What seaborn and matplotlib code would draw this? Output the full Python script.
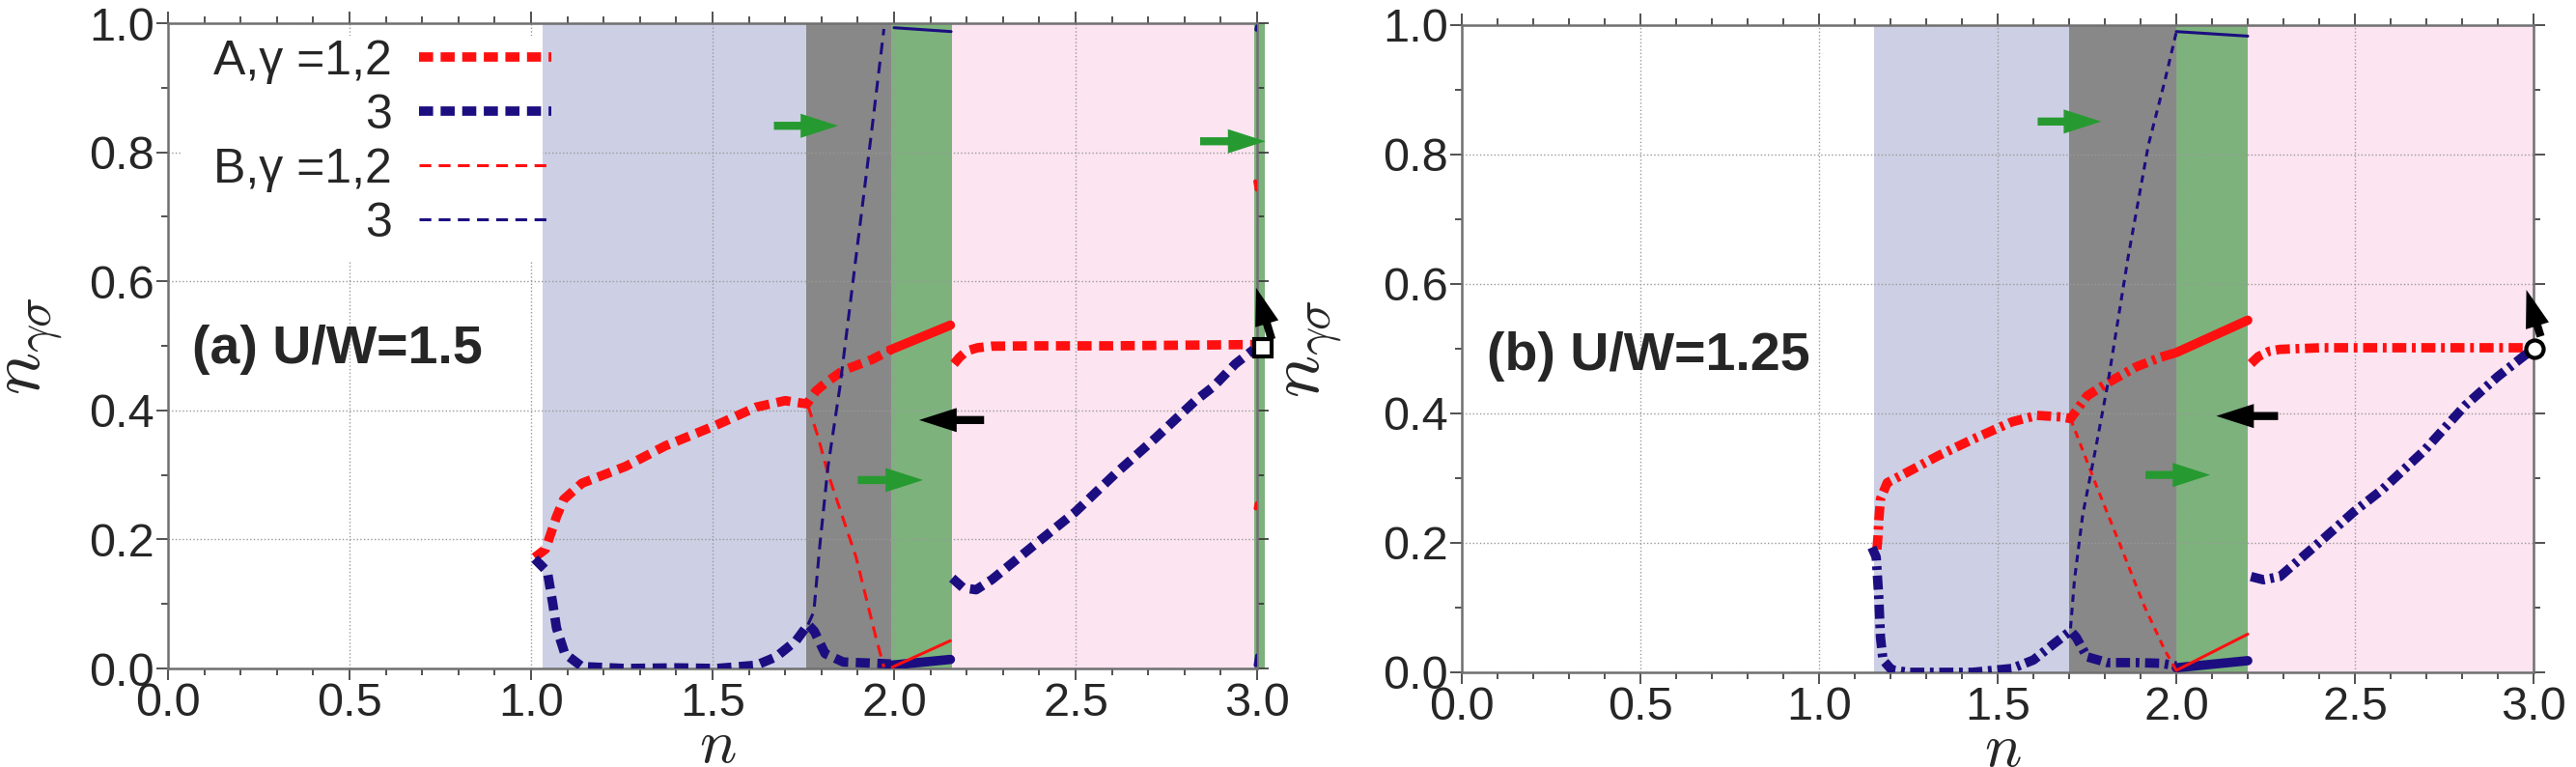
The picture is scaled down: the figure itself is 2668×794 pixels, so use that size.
import matplotlib
matplotlib.use('Agg')
import matplotlib.pyplot as plt
import seaborn as sns
from matplotlib.patches import Rectangle
from matplotlib.ticker import MultipleLocator, FormatStrFormatter

sns.set_style('ticks')
plt.rcParams['font.family'] = ['Liberation Sans', 'DejaVu Sans']
plt.rcParams['mathtext.fontset'] = 'cm'

RED = '#ff1010'
NAVY = '#1c0e80'
LAV = '#cdcfe4'
GRAY = '#888888'
GREEN = '#7db27d'
PINK = '#fce4f1'
ARROW_GREEN = '#269a30'

# ---------------- panel (a) U/W=1.5 ----------------
a_bounds = [1.032, 1.758, 1.991, 2.159, 2.993, 3.02]
a_colors = [LAV, GRAY, GREEN, PINK, GREEN]

# A, gamma=1,2
a_A12_x1 = [1.01, 1.04, 1.055, 1.07, 1.09, 1.14, 1.26, 1.37, 1.51, 1.62, 1.70, 1.76, 1.785, 1.81, 1.86, 1.94, 1.991]
a_A12_y1 = [0.172, 0.185, 0.21, 0.235, 0.262, 0.287, 0.313, 0.345, 0.377, 0.405, 0.415, 0.41, 0.43, 0.442, 0.462, 0.479, 0.494]
a_A12_x2 = [1.991, 2.155]
a_A12_y2 = [0.494, 0.532]
a_A12_x3 = [2.165, 2.18, 2.20, 2.23, 2.27, 2.4, 2.6, 2.8, 2.99]
a_A12_y3 = [0.472, 0.482, 0.492, 0.497, 0.4995, 0.5, 0.5, 0.501, 0.502]
# A, gamma=3
a_A3_x1 = [1.01, 1.045, 1.06, 1.07, 1.093, 1.14, 1.26, 1.4, 1.51, 1.62, 1.675, 1.73, 1.763, 1.78, 1.81, 1.86, 1.95, 1.991]
a_A3_y1 = [0.17, 0.15, 0.10, 0.063, 0.023, 0.003, 0.0, 0.001, 0.0, 0.005, 0.018, 0.043, 0.068, 0.058, 0.023, 0.010, 0.008, 0.007]
a_A3_x2 = [1.991, 2.155]
a_A3_y2 = [0.005, 0.014]
a_A3_x3 = [2.16, 2.19, 2.226, 2.27, 2.39, 2.5, 2.61, 2.72, 2.83, 2.88, 2.94, 2.99]
a_A3_y3 = [0.14, 0.125, 0.122, 0.138, 0.193, 0.243, 0.302, 0.357, 0.415, 0.437, 0.472, 0.494]
# B, gamma=1,2
a_B12_x1 = [1.763, 1.79, 1.818, 1.855, 1.895, 1.95, 1.972]
a_B12_y1 = [0.407, 0.36, 0.302, 0.24, 0.173, 0.048, 0.002]
a_B12_x2 = [1.995, 2.155]
a_B12_y2 = [0.002, 0.043]
# B, gamma=3
a_B3_x1 = [1.763, 1.779, 1.795, 1.818, 1.851, 1.895, 1.939, 1.972]
a_B3_y1 = [0.068, 0.088, 0.188, 0.313, 0.437, 0.637, 0.836, 0.991]
a_B3_x2 = [2.0, 2.157]
a_B3_y2 = [0.993, 0.987]
# bits of the B lines seen in the thin strip at n=3
a_Bred_edge_x = [[2.995, 2.999], [2.996, 2.999]]
a_Bred_edge_y = [[0.755, 0.742], [0.248, 0.256]]
a_Bnavy_edge_x = [[2.996, 3.0], [2.998, 3.0]]
a_Bnavy_edge_y = [[0.005, 0.02], [0.99, 0.995]]

# arrows: (tail x, tail y, head x, head y, colour)
a_arrows = [(1.669, 0.841, 1.846, 0.841, ARROW_GREEN),
            (2.843, 0.817, 3.023, 0.817, ARROW_GREEN),
            (1.90, 0.292, 2.08, 0.292, ARROW_GREEN),
            (2.248, 0.385, 2.069, 0.385, 'black'),
            (3.04, 0.51, 2.997, 0.59, 'black')]
a_marker = (3.015, 0.497)

# ---------------- panel (b) U/W=1.25 ----------------
b_bounds = [1.153, 1.701, 2.0, 2.2, 3.0]
b_colors = [LAV, GRAY, GREEN, PINK]

b_A12_x1 = [1.162, 1.165, 1.167, 1.172, 1.191, 1.25, 1.335, 1.43, 1.54, 1.61, 1.68, 1.704, 1.75, 1.807, 1.888, 1.957, 2.0]
b_A12_y1 = [0.19, 0.21, 0.233, 0.268, 0.293, 0.310, 0.335, 0.36, 0.387, 0.397, 0.3945, 0.392, 0.427, 0.447, 0.472, 0.487, 0.494]
b_A12_x2 = [2.0, 2.2]
b_A12_y2 = [0.494, 0.544]
b_A12_x3 = [2.209, 2.23, 2.26, 2.29, 2.405, 2.6, 2.8, 3.0]
b_A12_y3 = [0.477, 0.488, 0.496, 0.499, 0.5015, 0.5015, 0.5015, 0.5015]
b_A3_x1 = [1.148, 1.16, 1.167, 1.172, 1.179, 1.203, 1.25, 1.39, 1.43, 1.54, 1.60, 1.657, 1.704, 1.72, 1.75, 1.807, 1.888, 1.957, 2.0]
b_A3_y1 = [0.193, 0.178, 0.118, 0.054, 0.019, 0.004, 0.0, 0.0, 0.0, 0.006, 0.019, 0.044, 0.064, 0.054, 0.024, 0.015, 0.015, 0.014, 0.01]
b_A3_x2 = [2.0, 2.2]
b_A3_y2 = [0.007, 0.018]
b_A3_x3 = [2.209, 2.244, 2.29, 2.405, 2.497, 2.578, 2.693, 2.808, 2.9, 2.969, 3.0]
b_A3_y3 = [0.148, 0.143, 0.148, 0.203, 0.248, 0.283, 0.342, 0.412, 0.457, 0.487, 0.50]
b_B12_x1 = [1.704, 1.773, 1.842, 1.91, 1.968, 2.0]
b_B12_y1 = [0.392, 0.293, 0.198, 0.103, 0.034, 0.003]
b_B12_x2 = [2.0, 2.2]
b_B12_y2 = [0.003, 0.059]
b_B3_x1 = [1.704, 1.715, 1.738, 1.773, 1.807, 1.865, 1.922, 1.968, 2.0]
b_B3_y1 = [0.068, 0.143, 0.243, 0.342, 0.442, 0.641, 0.815, 0.914, 0.989]
b_B3_x2 = [2.0, 2.2]
b_B3_y2 = [0.99, 0.983]

b_arrows = [(1.612, 0.851, 1.79, 0.851, ARROW_GREEN),
            (1.914, 0.305, 2.095, 0.305, ARROW_GREEN),
            (2.285, 0.396, 2.112, 0.396, 'black'),
            (3.02, 0.519, 2.98, 0.591, 'black')]
b_marker = (3.003, 0.50)

legend_labels = ['A,γ =1,2', '3', 'B,γ =1,2', '3']

THICK = 7
THIN = 2.2


def seg(ax, x, y, color, lw, ls='-'):
    sns.lineplot(x=x, y=y, ax=ax, color=color, lw=lw, ls=ls, sort=False,
                 estimator=None, legend=False, zorder=3)
    return ax.lines[-1]


def style_axes(ax, label_x, label_y):
    ax.set_xlim(0, 3)
    ax.set_ylim(0, 1)
    ax.xaxis.set_major_locator(MultipleLocator(0.5))
    ax.xaxis.set_minor_locator(MultipleLocator(0.1))
    ax.yaxis.set_major_locator(MultipleLocator(0.2))
    ax.yaxis.set_minor_locator(MultipleLocator(0.1))
    ax.xaxis.set_major_formatter(FormatStrFormatter('%.1f'))
    ax.yaxis.set_major_formatter(FormatStrFormatter('%.1f'))
    ax.tick_params(which='both', direction='out', top=True, right=True,
                   width=1.2, color='#333333', labelsize=35, pad=1.5)
    ax.tick_params(which='major', length=8.6)
    ax.tick_params(which='minor', length=5)
    for s in ax.spines.values():
        s.set_visible(True)
        s.set_color('#707070')
        s.set_linewidth(1.8)
    ax.set_axisbelow('line')
    ax.grid(True, which='major', ls=':', lw=1.0, color='#999999')
    ax.set_xlabel(r'$n$', fontsize=46)
    ax.set_ylabel(r'$n_{\gamma\sigma}$', fontsize=53)
    ax.xaxis.set_label_coords(0.505, label_x)
    ax.yaxis.set_label_coords(label_y, 0.5)


def shade(ax, bounds, colors):
    for i, c in enumerate(colors):
        sp = ax.axvspan(bounds[i], bounds[i + 1], color=c, lw=0, zorder=1)
        sp.set_clip_on(False)


def arrows(ax, arr):
    for tx, ty, hx, hy, c in arr:
        ax.annotate('', xy=(hx, hy), xytext=(tx, ty), annotation_clip=False,
                    arrowprops=dict(arrowstyle='simple,head_length=1.4,head_width=0.9,tail_width=0.3',
                                    color=c, mutation_scale=20, shrinkA=0, shrinkB=0, lw=0),
                    zorder=6)


fig = plt.figure(figsize=(26.68, 7.94), dpi=100)
axa = fig.add_axes([0.06522, 0.12846, 0.42279, 0.84131])
axb = fig.add_axes([0.56747, 0.12343, 0.41604, 0.84383])

# panel (a)
shade(axa, a_bounds, a_colors)
dash_a = (0, (1.5, 0.8))
dash_b = (0, (4, 2.5))
hA12 = seg(axa, a_A12_x1, a_A12_y1, RED, THICK, dash_a)
seg(axa, a_A12_x2, a_A12_y2, RED, THICK)
seg(axa, a_A12_x3, a_A12_y3, RED, THICK, dash_a)
hA3 = seg(axa, a_A3_x1, a_A3_y1, NAVY, THICK, dash_a)
seg(axa, a_A3_x2, a_A3_y2, NAVY, THICK)
seg(axa, a_A3_x3, a_A3_y3, NAVY, THICK, dash_a)
hB12 = seg(axa, a_B12_x1, a_B12_y1, RED, THIN, dash_b)
seg(axa, a_B12_x2, a_B12_y2, RED, THIN)
hB3 = seg(axa, a_B3_x1, a_B3_y1, NAVY, THIN, dash_b)
seg(axa, a_B3_x2, a_B3_y2, NAVY, THIN)
for xs, ys in zip(a_Bred_edge_x, a_Bred_edge_y):
    seg(axa, xs, ys, RED, 3)
for xs, ys in zip(a_Bnavy_edge_x, a_Bnavy_edge_y):
    seg(axa, xs, ys, NAVY, 3)
arrows(axa, a_arrows)
axa.plot([a_marker[0]], [a_marker[1]], marker='s', ms=13, mfc='white', mec='black',
         mew=3, clip_on=False, zorder=7)
style_axes(axa, -0.075, -0.095)
axa.text(0.066, 0.494, '(a) U/W=1.5', fontsize=40, fontweight='bold', va='center', ha='left', zorder=8)
axa.add_patch(Rectangle((0.04, 0.63), a_bounds[0] - 0.04, 0.35, facecolor='white',
                        edgecolor='none', zorder=1.6))
axa.legend([hA12, hA3, hB12, hB3], legend_labels, loc='upper right',
           bbox_to_anchor=(0.352, 0.975), frameon=False, markerfirst=False, fontsize=36,
           handlelength=2.75, handletextpad=0.55, labelspacing=0.2, borderpad=0,
           borderaxespad=0)

# panel (b)
shade(axb, b_bounds, b_colors)
dash_a2 = (0, (1.5, 0.6, 0.4, 0.6))
dash_b2 = (0, (2.5, 2))
seg(axb, b_A12_x1, b_A12_y1, RED, THICK, dash_a2)
seg(axb, b_A12_x2, b_A12_y2, RED, THICK)
seg(axb, b_A12_x3, b_A12_y3, RED, THICK, dash_a2)
seg(axb, b_A3_x1, b_A3_y1, NAVY, THICK, dash_a2)
seg(axb, b_A3_x2, b_A3_y2, NAVY, THICK)
seg(axb, b_A3_x3, b_A3_y3, NAVY, THICK, dash_a2)
seg(axb, b_B12_x1, b_B12_y1, RED, THIN, dash_b2)
seg(axb, b_B12_x2, b_B12_y2, RED, THIN)
seg(axb, b_B3_x1, b_B3_y1, NAVY, THIN, dash_b2)
seg(axb, b_B3_x2, b_B3_y2, NAVY, THIN)
arrows(axb, b_arrows)
axb.plot([b_marker[0]], [b_marker[1]], marker='o', ms=13, mfc='white', mec='black',
         mew=3, clip_on=False, zorder=7)
style_axes(axb, -0.075, -0.11)
axb.text(0.07, 0.488, '(b) U/W=1.25', fontsize=40, fontweight='bold', va='center', ha='left', zorder=8)

fig.savefig('out.png', dpi=100)
